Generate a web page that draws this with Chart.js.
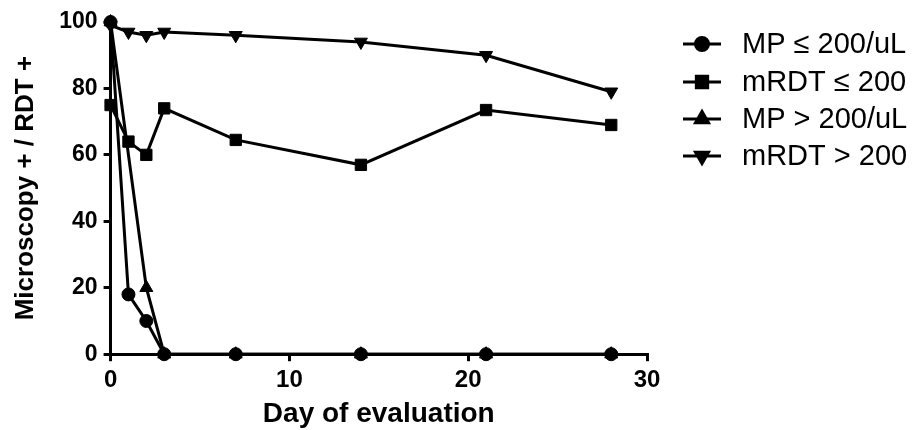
<!DOCTYPE html>
<html>
<head>
<meta charset="utf-8">
<script src="https://cdn.jsdelivr.net/npm/chart.js@4"></script>
<style>
  html, body { margin: 0; padding: 0; background: #fff; }
  #wrap { width: 918px; height: 430px; position: relative; }
</style>
</head>
<body>
<div id="wrap"><canvas id="chart" width="918" height="430"></canvas></div>
<script>
// days of evaluation (x values)
const days = [0, 1, 2, 3, 7, 14, 21, 28];
// percent positive per group
const mpLow = [100, 18, 10, 0, 0, 0, 0, 0];
const rdtLow = [75, 64, 60, 74, 64.5, 57, 73.5, 69];
const mpHigh = [100, null, 20, 0, 0, 0, 0, 0];
const rdtHigh = [99, 97, 96, 97, 96, 94, 90, 79];
const seriesNames = ['MP \u2264 200/uL', 'mRDT \u2264 200', 'MP > 200/uL', 'mRDT > 200'];
const xTicks = [0, 10, 20, 30];
const yTicks = [0, 20, 40, 60, 80, 100];

const FONT = '"Liberation Sans", Arial, sans-serif';

function toPoints(vals) {
  return days.map((d, i) => ({x: d, y: vals[i]}));
}

function makeSet(label, vals, style, radius, rotation) {
  return {
    label: label,
    data: toPoints(vals),
    borderColor: '#000',
    backgroundColor: '#000',
    borderWidth: 3,
    pointStyle: style,
    pointRadius: radius,
    pointRotation: rotation || 0,
    pointBorderWidth: 1,
    spanGaps: true,
    clip: false,
  };
}

// legend drawn as line + marker, like the original figure
const sideLegend = {
  id: 'sideLegend',
  afterDraw(chart) {
    const ctx = chart.ctx;
    const x0 = 683;
    const rows = [44, 82, 119, 156];
    ctx.save();
    chart.data.datasets.forEach((ds, i) => {
      const y = rows[i];
      ctx.strokeStyle = '#000';
      ctx.lineWidth = 3;
      ctx.beginPath();
      ctx.moveTo(x0, y);
      ctx.lineTo(x0 + 38, y);
      ctx.stroke();
      ctx.fillStyle = '#000';
      Chart.helpers.drawPoint(ctx, {
        pointStyle: ds.pointStyle,
        radius: ds.pointRadius,
        rotation: ds.pointRotation,
        borderWidth: 1,
      }, x0 + 19, y);
      ctx.fillStyle = '#000';
      ctx.font = '29px ' + FONT;
      ctx.textBaseline = 'middle';
      ctx.fillText(ds.label, x0 + 59, y + 1);
    });
    ctx.restore();
  },
};

new Chart(document.getElementById('chart'), {
  type: 'line',
  data: {
    datasets: [
      makeSet(seriesNames[0], mpLow, 'circle', 6.5),
      makeSet(seriesNames[1], rdtLow, 'rect', 8),
      makeSet(seriesNames[2], mpHigh, 'triangle', 7.5),
      makeSet(seriesNames[3], rdtHigh, 'triangle', 7.5, 180),
    ],
  },
  options: {
    responsive: false,
    animation: false,
    layout: {padding: {left: 6, right: 271, top: 22, bottom: 2}},
    plugins: {
      legend: {display: false},
      tooltip: {enabled: false},
    },
    scales: {
      x: {
        type: 'linear',
        min: 0,
        max: 30,
        afterBuildTicks: (axis) => { axis.ticks = xTicks.map((v) => ({value: v})); },
        grid: {display: true, drawOnChartArea: false, drawTicks: true, tickLength: 7, color: '#000', lineWidth: 3},
        border: {display: true, color: '#000', width: 3},
        ticks: {color: '#000', font: {family: FONT, size: 24, weight: 'bold'}, padding: 5, maxRotation: 0},
        title: {display: true, text: 'Day of evaluation', color: '#000', font: {family: FONT, size: 28, weight: 'bold', lineHeight: 1.0}, padding: {top: 0, bottom: 0}},
      },
      y: {
        min: 0,
        max: 100,
        afterBuildTicks: (axis) => { axis.ticks = yTicks.map((v) => ({value: v})); },
        grid: {display: true, drawOnChartArea: false, drawTicks: true, tickLength: 7, color: '#000', lineWidth: 3},
        border: {display: true, color: '#000', width: 3},
        ticks: {color: '#000', font: {family: FONT, size: 23, weight: 'bold'}, padding: 6},
        title: {display: true, text: 'Microscopy + / RDT +', color: '#000', font: {family: FONT, size: 26, weight: 'bold'}, padding: {top: 4, bottom: 12}},
      },
    },
  },
  plugins: [sideLegend],
});
</script>
</body>
</html>
